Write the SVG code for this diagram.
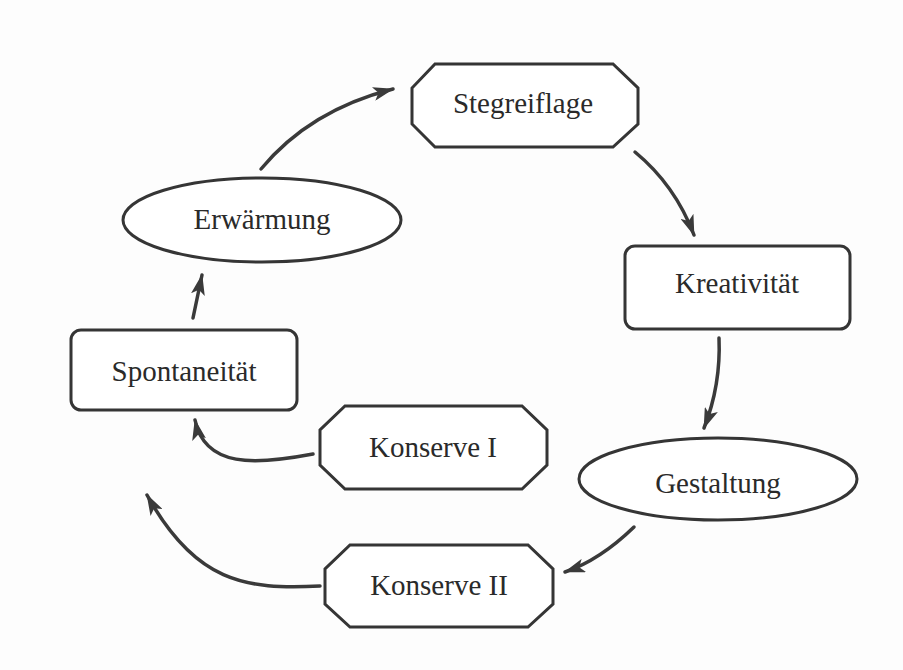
<svg xmlns="http://www.w3.org/2000/svg" width="903" height="670" viewBox="0 0 903 670">
<style>
.n{fill:#ffffff;stroke:#353535;stroke-width:3}
.t{font-family:"Liberation Serif","Times New Roman",serif;font-size:29px;fill:#2a2a2a;text-anchor:middle}
.c{fill:none;stroke:#3a3a3a;stroke-width:3.5;stroke-linecap:round;marker-end:url(#ah)}
</style>
<defs>
<marker id="ah" markerUnits="userSpaceOnUse" viewBox="0 0 22 14" refX="20" refY="7" markerWidth="22" markerHeight="14" orient="auto">
<path d="M0,0 L21,7 L0,14 L5,7 z" fill="#3a3a3a"/>
</marker>
</defs>
<rect width="903" height="670" fill="#fdfdfd"/>
<g id="connectors">
<path class="c" d="M261,169 Q310,110 393,89"/>
<path class="c" d="M635,152 Q675,185 694,235"/>
<path class="c" d="M719,338 Q721,385 704,428"/>
<path class="c" d="M634,527 Q600,560 565,572"/>
<path class="c" d="M320,586 C245,590 195,582 147,495"/>
<path class="c" d="M313,454 C255,465 205,468 195,420"/>
<path class="c" d="M193,318 L202,275"/>
</g>
<g id="stegreiflage">
<polygon class="n" points="435,64 613,64 638,88 638,124 613,147 435,147 412,124 412,88"/>
<text class="t" x="523" y="113">Stegreiflage</text>
</g>
<g id="erwaermung">
<ellipse class="n" cx="262" cy="220" rx="139" ry="42"/>
<text class="t" x="262" y="229">Erwärmung</text>
</g>
<g id="kreativitaet">
<rect class="n" x="625" y="246" width="225" height="83" rx="10"/>
<text class="t" x="737" y="293">Kreativität</text>
</g>
<g id="spontaneitaet">
<rect class="n" x="71" y="330" width="226" height="80" rx="10"/>
<text class="t" x="184" y="381">Spontaneität</text>
</g>
<g id="konserve1">
<polygon class="n" points="345,406 522,406 547,430 547,465 522,489 345,489 320,465 320,430"/>
<text class="t" x="433" y="457">Konserve I</text>
</g>
<g id="gestaltung">
<ellipse class="n" cx="718" cy="479" rx="139" ry="41"/>
<text class="t" x="718" y="493">Gestaltung</text>
</g>
<g id="konserve2">
<polygon class="n" points="350,545 528,545 553,569 553,604 528,627 350,627 325,604 325,569"/>
<text class="t" x="439" y="595">Konserve II</text>
</g>
</svg>
